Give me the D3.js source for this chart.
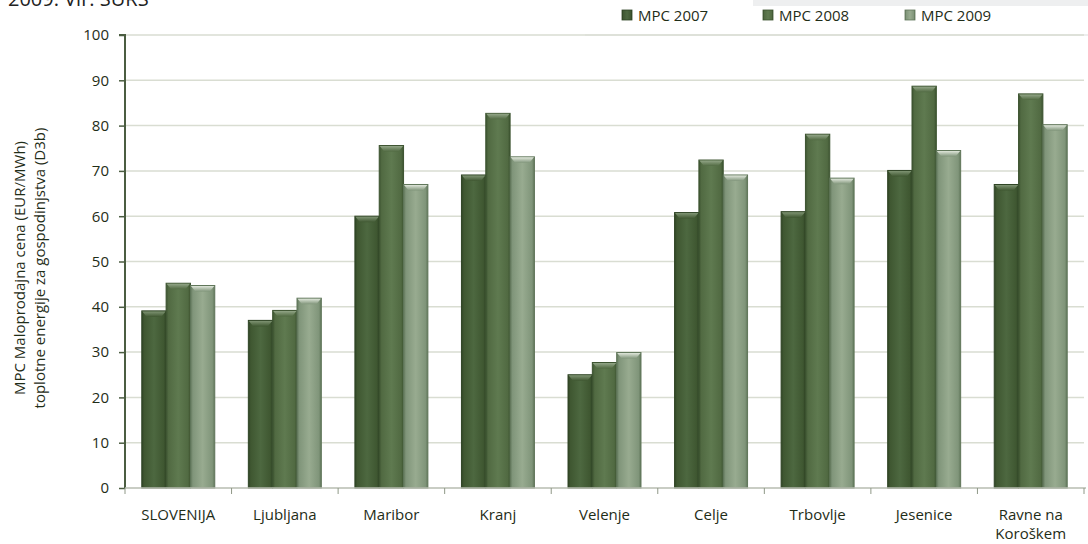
<!DOCTYPE html>
<html>
<head>
<meta charset="utf-8">
<script src="https://cdn.jsdelivr.net/npm/d3@7"></script>
<style>
  html, body { margin: 0; padding: 0; background: #ffffff; }
  svg { display: block; }
  text { font-family: "Open Sans", Lato, sans-serif; }
</style>
</head>
<body>
<svg id="chart" width="1088" height="544"></svg>
<script>
// Retail heat prices for households (D3b), EUR/MWh
const categories = ["SLOVENIJA", "Ljubljana", "Maribor", "Kranj", "Velenje", "Celje", "Trbovlje", "Jesenice", "Ravne na Koroškem"];
const seriesNames = ["MPC 2007", "MPC 2008", "MPC 2009"];
const mpc2007 = [39.1, 37.0, 60.0, 69.1, 25.0, 60.8, 61.0, 70.1, 67.0];
const mpc2008 = [45.2, 39.2, 75.6, 82.7, 27.7, 72.4, 78.1, 88.7, 87.0];
const mpc2009 = [44.7, 41.9, 67.0, 73.1, 29.9, 69.1, 68.4, 74.5, 80.2];
const yTicks = [0, 10, 20, 30, 40, 50, 60, 70, 80, 90, 100];
const yTitle = ["MPC Maloprodajna cena (EUR/MWh)", "toplotne energije za gospodinjstva (D3b)"];
const sourceNote = "2009. Vir: SURS";

const seriesValues = [mpc2007, mpc2008, mpc2009];
const palette = [
  { edge: "#2f4425", mid: "#3f5731", light: "#4d6840", cap: "#7f9473" },
  { edge: "#3c5330", mid: "#516a42", light: "#5f7a50", cap: "#93a688" },
  { edge: "#60765a", mid: "#80957a", light: "#98ab90", cap: "#dfe6da" }
];
const FONT = 15;
const textColor = "#1f2d18";

const svg = d3.select("#chart");
const W = 1088, H = 544;
const plotLeft = 125, plotRight = 1084, plotTop = 35, plotBottom = 488;

const x = d3.scaleBand().domain(categories).range([plotLeft, plotRight]).paddingInner(0).paddingOuter(0);
const xi = d3.scaleBand().domain(seriesNames).range([0, x.bandwidth()]).paddingInner(0).paddingOuter(0.69);
const y = d3.scaleLinear().domain([0, 100]).range([plotBottom, plotTop]);

// gradients for the bar bodies and caps
const defs = svg.append("defs");
palette.forEach((p, i) => {
  const g = defs.append("linearGradient").attr("id", "body" + i)
    .attr("x1", "0").attr("x2", "1").attr("y1", "0").attr("y2", "0");
  [[0, p.edge], [0.1, p.mid], [0.5, p.light], [0.9, p.mid], [1, p.edge]].forEach(([o, c]) =>
    g.append("stop").attr("offset", o).attr("stop-color", c));
  const c = defs.append("linearGradient").attr("id", "cap" + i)
    .attr("x1", "0").attr("x2", "0").attr("y1", "0").attr("y2", "1");
  c.append("stop").attr("offset", 0).attr("stop-color", p.cap);
  c.append("stop").attr("offset", 1).attr("stop-color", p.mid);
});

// source note, running off the top edge
svg.append("text").attr("x", 8).attr("y", 6)
  .attr("font-family", "'Liberation Serif', serif").attr("font-size", 20)
  .attr("fill", "#222").text(sourceNote);

// grey band at the top right
svg.append("rect").attr("x", 753).attr("y", 0).attr("width", W - 753).attr("height", 6).attr("fill", "#eeeff0");
svg.append("line").attr("x1", 585).attr("x2", W).attr("y1", 35).attr("y2", 35)
  .attr("stroke", "#eeeeee").attr("stroke-width", 2);

// gridlines
svg.append("g").selectAll("line").data(yTicks.filter(t => t > 0)).join("line")
  .attr("x1", plotLeft).attr("x2", plotRight)
  .attr("y1", d => y(d)).attr("y2", d => y(d))
  .attr("stroke", "#d9ddd2").attr("stroke-width", 1.5);

// bars
const groups = svg.append("g").selectAll("g").data(categories).join("g")
  .attr("transform", d => `translate(${x(d)},0)`);

groups.each(function (cat, ci) {
  const g = d3.select(this);
  seriesNames.forEach((s, si) => {
    const v = seriesValues[si][ci];
    const bx = xi(s), bw = xi.bandwidth();
    const by = y(v);
    g.append("rect").attr("x", bx).attr("y", by).attr("width", bw).attr("height", y(0) - by)
      .attr("fill", `url(#body${si})`).attr("stroke", palette[si].edge).attr("stroke-width", 1);
    const ch = 6, inset = 5;
    g.append("path")
      .attr("d", `M${bx + 0.5},${by + 0.5} L${bx + bw - 0.5},${by + 0.5} L${bx + bw - inset},${by + ch} L${bx + inset},${by + ch} Z`)
      .attr("fill", `url(#cap${si})`);
  });
});

// y axis
const yAxis = svg.append("g").attr("transform", `translate(${plotLeft},0)`)
  .call(d3.axisLeft(y).tickValues(yTicks).tickSize(6).tickPadding(10));
yAxis.select(".domain").attr("stroke", "#4b5d41").attr("stroke-width", 2).attr("d", `M-6,${plotTop}H0V${plotBottom}`);
yAxis.selectAll(".tick line").attr("stroke", "#4b5d41").attr("stroke-width", 1.5);
yAxis.selectAll(".tick text").attr("font-size", FONT).attr("fill", textColor)
  .attr("font-family", "'Open Sans', Lato, sans-serif");

// x axis with ticks at category boundaries
const xAxisG = svg.append("g");
xAxisG.append("line").attr("x1", plotLeft).attr("x2", plotRight + 2).attr("y1", plotBottom).attr("y2", plotBottom)
  .attr("stroke", "#b7bdb0").attr("stroke-width", 1.5);
const bounds = categories.map(c => x(c)).concat([plotRight]);
xAxisG.selectAll("line.tk").data(bounds).join("line").attr("class", "tk")
  .attr("x1", d => d).attr("x2", d => d).attr("y1", plotBottom).attr("y2", plotBottom + 6)
  .attr("stroke", "#8f9887").attr("stroke-width", 1);

// category labels (long names wrap onto two lines)
const wrapped = { "Ravne na Koroškem": ["Ravne na", "Koroškem"] };
const lbl = svg.append("g").selectAll("text").data(categories).join("text")
  .attr("x", d => x(d) + x.bandwidth() / 2).attr("y", 520)
  .attr("text-anchor", "middle").attr("font-size", FONT).attr("fill", textColor);
lbl.each(function (d) {
  const lines = wrapped[d] || [d];
  d3.select(this).selectAll("tspan").data(lines).join("tspan")
    .attr("x", x(d) + x.bandwidth() / 2).attr("dy", (l, i) => i === 0 ? 0 : 19).text(l => l);
});

// y axis title
const titleText = svg.append("text").attr("transform", `translate(25,268) rotate(-90)`)
  .attr("text-anchor", "middle").attr("font-size", FONT).attr("fill", textColor);
titleText.selectAll("tspan").data(yTitle).join("tspan")
  .attr("x", 0).attr("dy", (d, i) => i === 0 ? 0 : 20).text(d => d);

// legend
const legendX = [622, 763, 905];
const leg = svg.append("g").selectAll("g").data(seriesNames).join("g")
  .attr("transform", (d, i) => `translate(${legendX[i]},10)`);
leg.append("rect").attr("width", 10).attr("height", 10)
  .attr("fill", (d, i) => `url(#body${i})`).attr("stroke", (d, i) => palette[i].edge).attr("stroke-width", 0.8);
leg.append("text").attr("x", 16).attr("y", 10.5).attr("font-size", FONT).attr("fill", textColor).text(d => d);
</script>
</body>
</html>
